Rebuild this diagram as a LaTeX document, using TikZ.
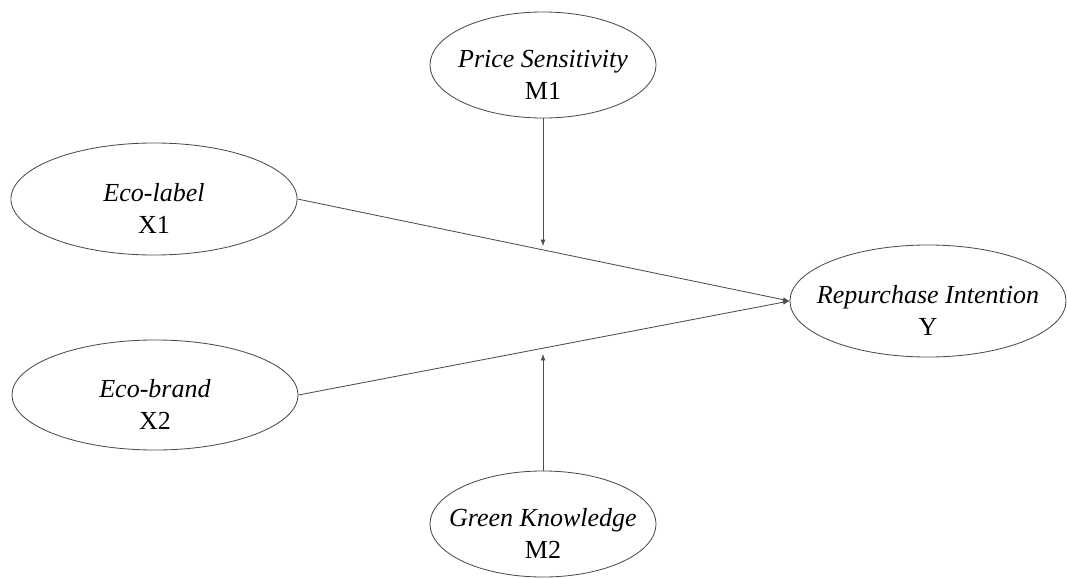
\documentclass[tikz,border=0pt]{standalone}
\usepackage{fontspec}
\setmainfont{Liberation Serif}
\usetikzlibrary{shapes.geometric,arrows,calc,positioning}
\tikzstyle{var}=[ellipse,draw=black!70,line width=0.6pt,inner sep=0pt,font=\fontsize{18.5}{22.5}\selectfont]
\tikzstyle{link}=[->,draw=black!70,line width=0.6pt]
\newcommand{\varlab}[2]{\makebox[0pt]{\raisebox{-13pt}[0pt][0pt]{\begin{tabular}{@{}c@{}}\textit{#1}\\#2\end{tabular}}}}
\begin{document}
\begin{tikzpicture}[>=latex, x=0.025cm, y=-0.025cm]
\useasboundingbox (0,0) rectangle (1067,579);
\node[var,minimum width=5.65cm,minimum height=2.65cm] (M1) at (543,65) {\varlab{Price Sensitivity}{M1}};
\node[var,minimum width=7.15cm,minimum height=2.8cm] (X1) at (154,199) {\varlab{Eco-label}{X1}};
\node[var,minimum width=7.15cm,minimum height=2.75cm] (X2) at (155,395) {\varlab{Eco-brand}{X2}};
\node[var,minimum width=6.9cm,minimum height=2.8cm] (Y) at (928,301) {\varlab{Repurchase Intention}{Y}};
\node[var,minimum width=5.65cm,minimum height=2.65cm] (M2) at (543,524) {\varlab{Green Knowledge}{M2}};
\coordinate (m1tip) at (543,246);
\coordinate (m2tip) at (543,354);
\draw[link] (X1.east) -- (Y.west);
\draw[link] (X2.east) -- (Y.west);
\draw[link] (M1) -- (m1tip);
\draw[link] (M2) -- (m2tip);
\end{tikzpicture}
\end{document}
